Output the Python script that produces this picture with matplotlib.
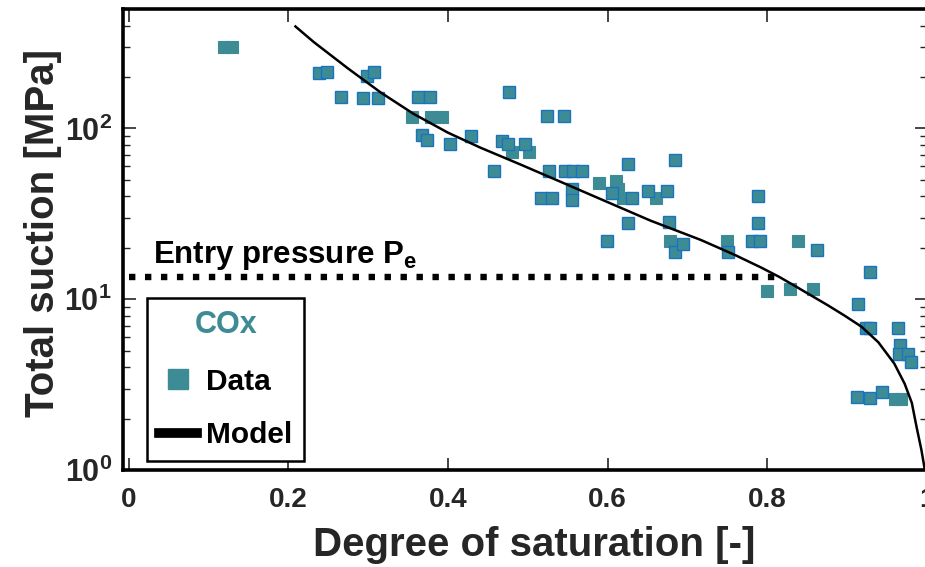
import numpy as np
import matplotlib
matplotlib.use("Agg")
import matplotlib.pyplot as plt
from matplotlib.lines import Line2D

plt.rcParams['font.family'] = ['Liberation Sans', 'DejaVu Sans']
plt.rcParams['font.weight'] = 'bold'
plt.rcParams['mathtext.fontset'] = 'custom'
plt.rcParams['mathtext.bf'] = 'Liberation Sans:bold'
plt.rcParams['mathtext.rm'] = 'Liberation Sans:bold'

# measured points, blue-edged markers
sat_edged = [0.239, 0.249, 0.266, 0.294, 0.298, 0.308, 0.313, 0.362, 0.377, 0.368,
             0.374, 0.403, 0.429, 0.458, 0.468, 0.475, 0.477, 0.496, 0.524, 0.545,
             0.527, 0.546, 0.557, 0.568, 0.516, 0.530, 0.555, 0.555, 0.605, 0.631,
             0.626, 0.626, 0.599, 0.650, 0.674, 0.684, 0.677, 0.684, 0.694, 0.751,
             0.781, 0.791, 0.788, 0.788, 0.862, 0.929, 0.914, 0.924, 0.929, 0.964,
             0.966, 0.965, 0.976, 0.980, 0.912, 0.929, 0.944]
suc_edged = [210, 215, 153, 150, 204, 213, 150, 153, 153, 91,
             85, 81, 90, 56, 84, 81, 164, 81, 118, 118,
             56, 56, 56, 56, 39, 39, 44, 38, 42, 39,
             62, 28, 22, 43, 43, 65, 28.5, 19, 21, 19,
             22, 22, 40, 28, 19.4, 14.4, 9.4, 6.8, 6.8, 6.8,
             5.4, 4.75, 4.75, 4.3, 2.67, 2.64, 2.86]

# measured points, markers without blue edge
sat_plain = [0.12, 0.13, 0.355, 0.379, 0.392, 0.480, 0.501, 0.589, 0.610, 0.613,
             0.619, 0.660, 0.678, 0.749, 0.838, 0.799, 0.829, 0.857, 0.960, 0.968]
suc_plain = [300, 300, 116, 116, 116, 73, 73, 48, 49, 44,
             39, 39, 22, 22, 22, 11.1, 11.4, 11.4, 2.6, 2.6]

# model curve
sat_model = [0.209, 0.232, 0.275, 0.316, 0.357, 0.400, 0.441, 0.491, 0.55, 0.60,
             0.654, 0.717, 0.76, 0.7925, 0.815, 0.834, 0.876, 0.897, 0.918, 0.939,
             0.959, 0.972, 0.981, 0.987, 0.993, 0.997]
suc_model = [395, 320, 224, 162, 121.6, 94.4, 77, 61.4, 46.7, 37,
             28.8, 22.2, 18.1, 15.3, 13.5, 12.0, 9.2, 8.0, 6.9, 5.6,
             4.2, 3.2, 2.47, 1.78, 1.31, 1.02]

entry_sat = [0.0, 0.815]
entry_p = [13.5, 13.5]

face = '#3d8b94'
edge = '#1a73c0'
grey = '#262626'

fig = plt.figure(figsize=(9.25, 5.67), dpi=100)
ax = fig.add_axes([123/925, 97/567, 804/925, 461/567])

ax.plot(sat_plain, suc_plain, 's', ms=8.5, mfc=face, mec=face, mew=0.8, zorder=3)
ax.plot(sat_edged, suc_edged, 's', ms=8.5, mfc=face, mec=edge, mew=1.0, zorder=3)
ax.plot(sat_model, suc_model, '-', color='k', lw=1.8, zorder=4)
ax.plot(entry_sat, entry_p, color='k', lw=4.6, ls=(0, (1, 1.5)),
        dash_capstyle='butt', zorder=4)
ax.text(0.031, 16.3, r'Entry pressure P$_{\mathbf{e}}$', fontsize=22.5,
        fontweight='bold', color='k', va='baseline')

ax.set_yscale('log')
ax.set_xlim(-0.007, 1.0)
ax.set_ylim(1, 500)
ax.set_xticks([0, 0.2, 0.4, 0.6, 0.8, 1.0])
ax.set_xticklabels(['0', '0.2', '0.4', '0.6', '0.8', '1'])
ax.set_yticks([1, 10, 100])
ax.set_yticklabels([r'$\mathbf{10^{0}}$', r'$\mathbf{10^{1}}$', r'$\mathbf{10^{2}}$'])

ax.tick_params(which='both', direction='in', top=True, right=True, colors=grey,
               labelcolor=grey)
ax.tick_params(axis='x', labelsize=20, pad=12)
ax.tick_params(axis='y', labelsize=22, pad=8)
ax.tick_params(which='major', length=9, width=1.2)
ax.tick_params(which='minor', length=5, width=1.0)

for s in ['left', 'top', 'bottom']:
    ax.spines[s].set_linewidth(2.6)
ax.spines['right'].set_visible(False)

ax.set_xlabel('Degree of saturation [-]', fontsize=29, fontweight='bold', color=grey)
ax.set_ylabel('Total suction [MPa]', fontsize=29, fontweight='bold', color=grey)
ax.xaxis.set_label_coords(0.512, -0.122, transform=ax.transAxes)
ax.yaxis.set_label_coords(-0.076, 0.514, transform=ax.transAxes)

handles = [Line2D([], [], ls='none', marker='s', ms=14, mfc=face, mec=face),
           Line2D([], [], color='k', lw=7)]
leg = ax.legend(handles, ['Data', 'Model'], loc='lower left', bbox_to_anchor=(0.03, 0.019),
                borderaxespad=0, title='COx', fancybox=False, edgecolor='k',
                framealpha=1, prop={'size': 21.5, 'weight': 'bold'},
                title_fontproperties={'size': 22, 'weight': 'bold'},
                handlelength=1.27, handletextpad=0.3, labelspacing=0.85,
                borderpad=0.4)
leg.get_title().set_color(face)
leg.get_frame().set_linewidth(1.8)
leg._legend_box.sep = 20

fig.savefig('out.png', dpi=100)
